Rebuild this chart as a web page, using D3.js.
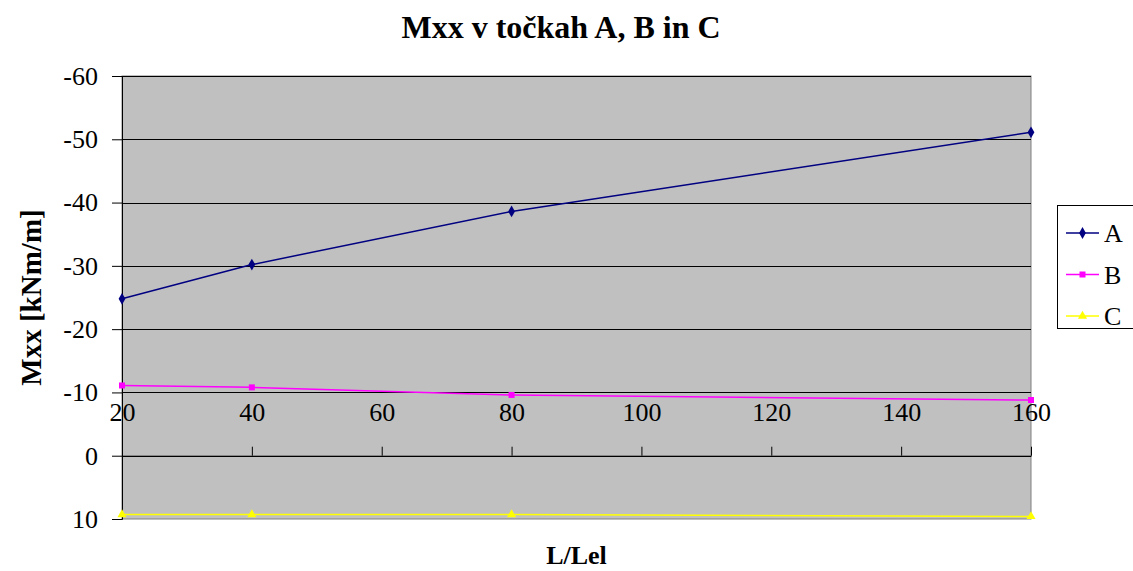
<!DOCTYPE html>
<html>
<head>
<meta charset="utf-8">
<script src="https://cdn.jsdelivr.net/npm/d3@7"></script>
<style>
  body { margin: 0; background: #fff; }
</style>
</head>
<body>
<script>
// values
const lengths = [20, 40, 80, 160];
const seriesA = [-24.8, -30.2, -38.6, -51.1];
const seriesB = [-11.1, -10.8, -9.6, -8.8];
const seriesC = [9.3, 9.3, 9.3, 9.6];
const seriesNames = ['A', 'B', 'C'];
const yTicks = [-60, -50, -40, -30, -20, -10, 0, 10];
const xTicks = [20, 40, 60, 80, 100, 120, 140, 160];

const serif = '"Liberation Serif", "DejaVu Serif", "Times New Roman", serif';

const series = [
  { name: 'A', values: seriesA, color: '#000080', shape: d3.symbolDiamond, size: 40 },
  { name: 'B', values: seriesB, color: '#ff00ff', shape: d3.symbolSquare, size: 36 },
  { name: 'C', values: seriesC, color: '#ffff00', shape: d3.symbolTriangle, size: 36 }
];

const width = 1133, height = 571;
const plot = { left: 122, right: 1031, top: 76, bottom: 519 };

const svg = d3.select('body')
  .append('svg')
  .attr('width', width)
  .attr('height', height);

// scales
const xScale = d3.scaleLinear().domain([20, 160]).range([plot.left, plot.right]);
const yScale = d3.scaleLinear().domain([-60, 10]).range([plot.top, plot.bottom]);

// plot area
svg.append('rect')
  .attr('x', plot.left)
  .attr('y', plot.top)
  .attr('width', plot.right - plot.left)
  .attr('height', plot.bottom - plot.top)
  .attr('fill', '#c0c0c0')
  .attr('stroke', '#808080')
  .attr('stroke-width', 1);

// gridlines
svg.append('g')
  .selectAll('line')
  .data(yTicks.filter(d => d < 10))
  .join('line')
  .attr('x1', plot.left)
  .attr('x2', plot.right)
  .attr('y1', d => Math.round(yScale(d)) + 0.5)
  .attr('y2', d => Math.round(yScale(d)) + 0.5)
  .attr('stroke', '#000')
  .attr('stroke-width', 1);

// y axis
const yAxis = d3.axisLeft(yScale).tickValues(yTicks).tickSize(10).tickPadding(14)
  .tickFormat(d => d);
const gy = svg.append('g')
  .attr('transform', `translate(${plot.left},0)`)
  .call(yAxis);
gy.select('.domain').attr('stroke', '#000');
gy.selectAll('text')
  .style('font-family', serif)
  .style('font-size', '26px')
  .attr('fill', '#000');

// x axis, crossing at 0, labels above the line
const xAxis = d3.axisTop(xScale).tickValues(xTicks).tickSizeInner(9).tickSizeOuter(0).tickPadding(26);
const gx = svg.append('g')
  .attr('transform', `translate(0,${yScale(0)})`)
  .call(xAxis);
gx.select('.domain').attr('stroke', '#000');
gx.selectAll('text')
  .style('font-family', serif)
  .style('font-size', '26px')
  .attr('fill', '#000');

// lines and markers
const line = d3.line()
  .x((d, i) => xScale(lengths[i]))
  .y(d => yScale(d));

series.forEach(s => {
  svg.append('path')
    .datum(s.values)
    .attr('d', line)
    .attr('fill', 'none')
    .attr('stroke', s.color)
    .attr('stroke-width', 1.5);

  svg.append('g')
    .selectAll('path')
    .data(s.values)
    .join('path')
    .attr('transform', (d, i) => `translate(${xScale(lengths[i])},${yScale(d)})`)
    .attr('d', d3.symbol().type(s.shape).size(s.size))
    .attr('fill', s.color);
});

// title
svg.append('text')
  .attr('x', 561)
  .attr('y', 38)
  .attr('text-anchor', 'middle')
  .style('font-family', serif)
  .style('font-size', '32px')
  .style('font-weight', 'bold')
  .text('Mxx v točkah A, B in C');

// y axis title
svg.append('text')
  .attr('transform', `translate(41,${(plot.top + plot.bottom) / 2}) rotate(-90)`)
  .attr('text-anchor', 'middle')
  .style('font-family', serif)
  .style('font-size', '29px')
  .style('font-weight', 'bold')
  .text('Mxx [kNm/m]');

// x axis title
svg.append('text')
  .attr('x', (plot.left + plot.right) / 2)
  .attr('y', 564)
  .attr('text-anchor', 'middle')
  .style('font-family', serif)
  .style('font-size', '26px')
  .style('font-weight', 'bold')
  .text('L/Lel');

// legend
const legend = svg.append('g').attr('transform', 'translate(1057,205)');
legend.append('rect')
  .attr('x', 0.5)
  .attr('y', 0.5)
  .attr('width', 90)
  .attr('height', 123)
  .attr('fill', '#fff')
  .attr('stroke', '#000');

const item = legend.selectAll('g.item')
  .data(series)
  .join('g')
  .attr('class', 'item')
  .attr('transform', (d, i) => `translate(0,${28 + i * 41.5})`);

item.append('line')
  .attr('x1', 9)
  .attr('x2', 42)
  .attr('stroke', d => d.color)
  .attr('stroke-width', 1.5);

item.append('path')
  .attr('transform', 'translate(25.5,0)')
  .attr('d', d => d3.symbol().type(d.shape).size(d.size)())
  .attr('fill', d => d.color);

item.append('text')
  .attr('x', 47)
  .attr('dy', '0.35em')
  .style('font-family', serif)
  .style('font-size', '26px')
  .text((d, i) => seriesNames[i]);
</script>
</body>
</html>
